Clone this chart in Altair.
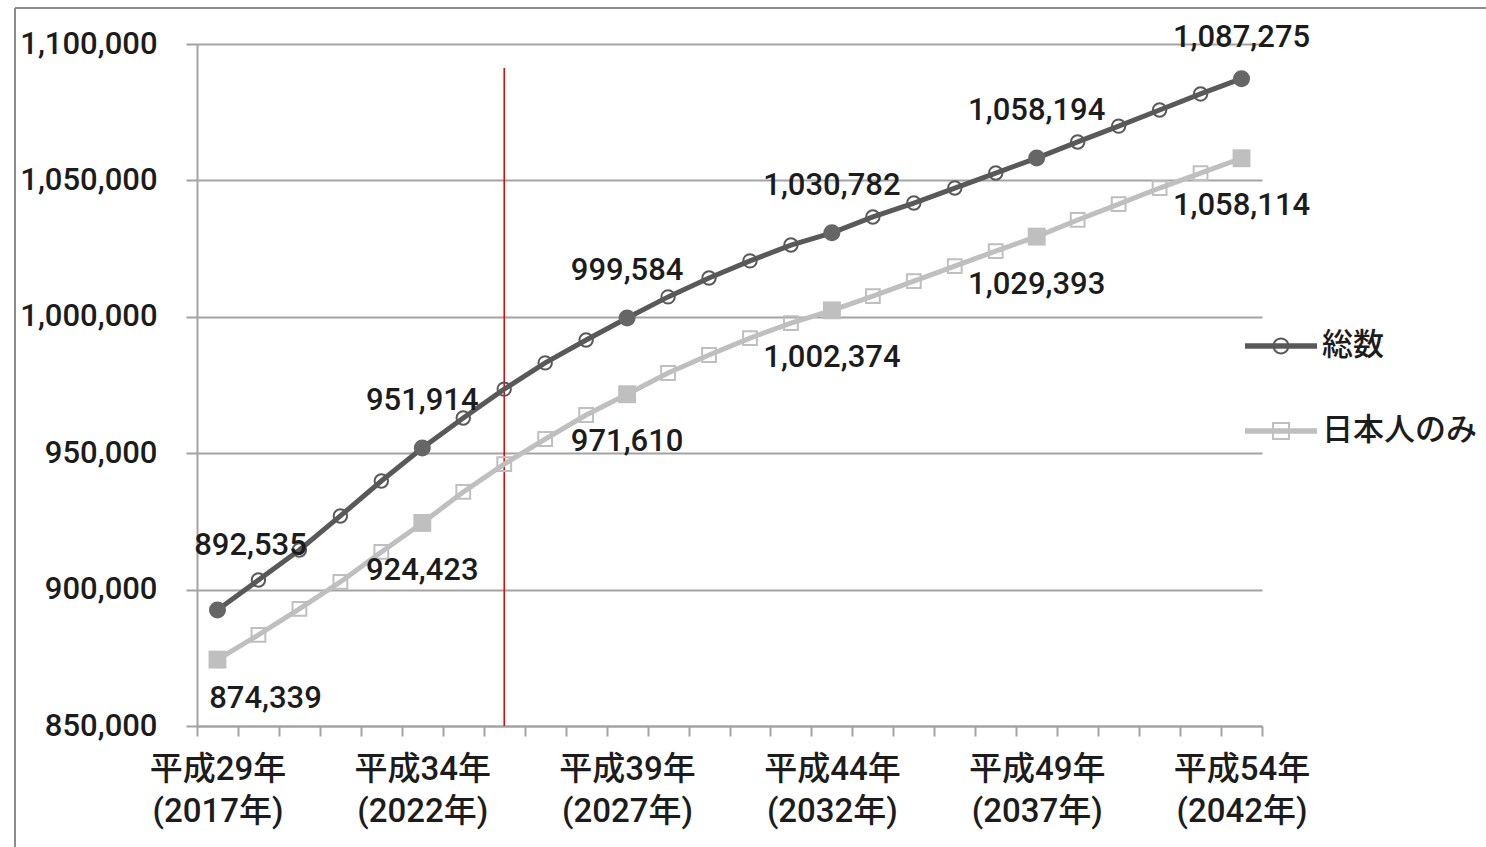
import altair as alt
import pandas as pd

# ---------------- data ----------------
years = ["2017", "2018", "2019", "2020", "2021", "2022", "2023", "2024", "2025",
         "2026", "2027", "2028", "2029", "2030", "2031", "2032", "2033", "2034",
         "2035", "2036", "2037", "2038", "2039", "2040", "2041", "2042"]

total = [892535, 903500, 914500, 927000, 939800, 951914, 962900, 973500, 983100,
         991500, 999584, 1007300, 1014200, 1020500, 1026300, 1030782, 1036600,
         1041700, 1047200, 1052700, 1058194, 1064100, 1069900, 1075800, 1081700,
         1087275]

japanese = [874339, 883400, 892900, 902800, 913800, 924423, 935800, 946000, 955200,
            964000, 971610, 979400, 986000, 992200, 997700, 1002374, 1007600,
            1013100, 1018600, 1024100, 1029393, 1035500, 1041300, 1047200, 1052700,
            1058114]

series_names = ["総数", "日本人のみ"]
labeled_years = ["2017", "2022", "2027", "2032", "2037", "2042"]
tick_line1 = ["平成29年", "平成34年", "平成39年", "平成44年", "平成49年", "平成54年"]
tick_line2 = ["(2017年)", "(2022年)", "(2027年)", "(2032年)", "(2037年)", "(2042年)"]
y_ticks = [850000, 900000, 950000, 1000000, 1050000, 1100000]
marker_year = "2024"

# ---------------- table ----------------
rows = []
for s, vals in zip(series_names, [total, japanese]):
    for y, v in zip(years, vals):
        rows.append({"year": y, "value": v, "series": s,
                     "labeled": y in labeled_years})
df = pd.DataFrame(rows)

DARK = "#595959"
LIGHT = "#BFBFBF"
GRID = "#A3A3A3"
TXT = "#1c1c1c"
FONT = "Roboto, Noto Sans CJK JP, sans-serif"
FONT_LEG = "Noto Sans CJK JP, sans-serif"
WEIGHT = 500

label_expr = ""
for y, a, b in zip(labeled_years, tick_line1, tick_line2):
    label_expr += f"datum.value == '{y}' ? ['{a}', '{b}'] : "
label_expr += "''"

x_enc = alt.X("year:N", sort=years,
              scale=alt.Scale(type="band", domain=years, paddingInner=0, paddingOuter=0),
              axis=alt.Axis(title=None, labelExpr=label_expr, labelAngle=0,
                            labelAlign="center",
                            tickBand="extent", tickSize=10, tickWidth=2, tickColor=GRID,
                            domainColor=GRID, domainWidth=2, grid=False,
                            labelFont=FONT, labelFontSize=33, labelFontWeight=WEIGHT,
                            labelColor=TXT,
                            labelPadding=17, labelLineHeight=42, labelBaseline="top",
                            labelOverlap=False))
y_enc = alt.Y("value:Q",
              scale=alt.Scale(domain=[850000, 1100000], nice=False, zero=False),
              axis=alt.Axis(title=None, values=y_ticks,
                            labelExpr="format(datum.value, ',')",
                            tickSize=11, tickWidth=2, tickColor=GRID,
                            domainColor=GRID, domainWidth=2,
                            grid=True, gridColor=GRID, gridWidth=2,
                            labelFont=FONT, labelFontSize=31, labelFontWeight=WEIGHT,
                            labelColor=TXT, labelPadding=29))

base = alt.Chart(df).encode(x=x_enc, y=y_enc)

s_total = alt.datum.series == series_names[0]
s_jp = alt.datum.series == series_names[1]

line_jp = base.transform_filter(s_jp).mark_line(color=LIGHT, strokeWidth=5)
line_total = base.transform_filter(s_total).mark_line(color=DARK, strokeWidth=5)

open_sq = base.transform_filter(s_jp).transform_filter("!datum.labeled").mark_point(
    shape="square", filled=False, size=190, strokeWidth=2, color=LIGHT, opacity=1)
open_ci = base.transform_filter(s_total).transform_filter("!datum.labeled").mark_point(
    shape="circle", filled=False, size=180, strokeWidth=2, color=DARK, opacity=1)
fill_sq = base.transform_filter(s_jp).transform_filter("datum.labeled").mark_point(
    shape="square", filled=True, size=320, color=LIGHT, opacity=1)
fill_ci = base.transform_filter(s_total).transform_filter("datum.labeled").mark_point(
    shape="circle", filled=True, size=290, color="#666666", opacity=1)

txt = alt.Text("value:Q", format=",")
def lab(filt, **kw):
    return base.transform_filter(filt).mark_text(
        font=FONT, fontSize=31, fontWeight=WEIGHT, color=TXT,
        align="center", baseline="middle", **kw
    ).encode(text=txt)

lab_total_mid = lab("datum.series == '総数' && datum.labeled && datum.year != '2017' && datum.year != '2042'", dy=-47)
lab_total_first = lab("datum.series == '総数' && datum.year == '2017'", dx=33, dy=-64)
lab_total_last = lab("datum.series == '総数' && datum.year == '2042'", dy=-41)
lab_jp_mid = lab("datum.series == '日本人のみ' && datum.labeled && datum.year != '2017'", dy=48)
lab_jp_first = lab("datum.series == '日本人のみ' && datum.year == '2017'", dx=48, dy=39)

red = alt.Chart(pd.DataFrame({"year": [marker_year]})).mark_rule(
    color="#E00000", strokeWidth=1.5).encode(
    x=alt.X("year:N", sort=years, bandPosition=0.5),
    y=alt.datum(1091200), y2=alt.datum(850000))

# legend-only layer (invisible marks, custom symbols)
circ_path = ("M-1,-0.075 L1,-0.075 L1,0.075 L-1,0.075 Z "
             "M0.236,0 A0.236,0.236 0 1,1 -0.236,0 A0.236,0.236 0 1,1 0.236,0 Z "
             "M0.18,0 A0.18,0.18 0 1,0 -0.18,0 A0.18,0.18 0 1,0 0.18,0 Z")
sq_path = ("M-1,-0.075 L1,-0.075 L1,0.075 L-1,0.075 Z "
           "M-0.25,-0.25 L0.25,-0.25 L0.25,0.25 L-0.25,0.25 Z "
           "M-0.194,-0.194 L-0.194,0.194 L0.194,0.194 L0.194,-0.194 Z")
leg = alt.Legend(title=None, orient="none", legendX=1048, legendY=266,
                 labelFont=FONT_LEG, labelFontSize=31, labelFontWeight=WEIGHT,
                 labelColor=TXT,
                 rowPadding=34, labelOffset=5, padding=0,
                 symbolStrokeWidth=0, symbolOpacity=1, symbolSize=5184)
legend_layer = alt.Chart(pd.DataFrame({"series": series_names})).mark_point(
    filled=True, size=5184, opacity=0).encode(
    color=alt.Color("series:N", scale=alt.Scale(domain=series_names, range=[DARK, LIGHT]), legend=leg),
    shape=alt.Shape("series:N", scale=alt.Scale(domain=series_names, range=[circ_path, sq_path]), legend=leg),
)

# outer frame (top and left edges of the original figure border)
frame_top = alt.Chart(pd.DataFrame({"a": [0]})).mark_rule(color="#8C8C8C", strokeWidth=2).encode(
    x=alt.value(-182), x2=alt.value(1289), y=alt.value(-36))
frame_left = alt.Chart(pd.DataFrame({"a": [0]})).mark_rule(color="#8C8C8C", strokeWidth=2).encode(
    x=alt.value(-182), y=alt.value(-36), y2=alt.value(803))

chart = alt.layer(
    red, line_jp, line_total, open_sq, open_ci, fill_sq, fill_ci,
    lab_total_mid, lab_total_first, lab_total_last, lab_jp_mid, lab_jp_first,
    legend_layer, frame_top, frame_left
).properties(
    width=1065, height=682,
    padding={"left": 197, "top": 44, "right": 224, "bottom": 121},
    autosize=alt.AutoSizeParams(type="none"),
    background="white",
).configure_view(stroke=None)

chart.save("out.html", embed_options={"renderer": "svg", "actions": False})
